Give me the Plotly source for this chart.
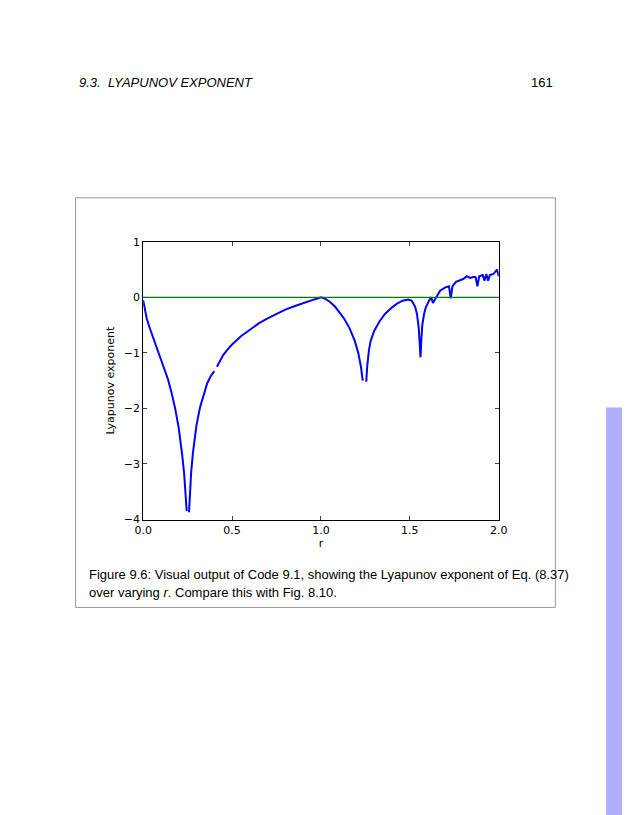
import plotly.graph_objects as go

r_vals = [0,0.01,0.02,0.04,0.06,0.08,0.1,0.12,0.14,0.16,0.18,0.2,0.21,0.22,0.23,0.24,0.245,None,
          0.258,0.262,0.27,0.28,0.29,0.3,0.32,0.34,0.36,0.38,0.4,None,
          0.415,0.43,0.45,0.48,0.5,0.55,0.6,0.65,0.7,0.75,0.8,0.85,0.9,0.95,0.98,1.0,1.02,1.05,1.08,1.1,1.13,1.16,1.19,1.21,1.225,1.235,None,
          1.255,1.26,1.27,1.28,1.3,1.33,1.36,1.4,1.43,1.46,1.49,1.51,1.53,1.54,1.55,1.56,1.565,1.57,1.58,1.59,1.61,1.62,1.63,1.65,1.67,1.7,1.72,1.73,1.74,1.76,1.78,1.8,1.82,1.84,1.86,1.87,1.88,1.89,1.91,1.92,1.93,1.94,1.95,1.97,1.99,2.0]
lyap = [-0.05,-0.25,-0.38,-0.58,-0.76,-0.93,-1.1,-1.28,-1.48,-1.72,-2.0,-2.35,-2.58,-2.85,-3.15,-3.55,-3.85,None,
        -3.87,-3.6,-3.15,-2.8,-2.52,-2.3,-1.98,-1.74,-1.55,-1.42,-1.33,None,
        -1.25,-1.15,-1.04,-0.92,-0.85,-0.7,-0.58,-0.47,-0.38,-0.3,-0.22,-0.16,-0.1,-0.05,-0.02,0,-0.02,-0.08,-0.17,-0.25,-0.38,-0.55,-0.78,-1.0,-1.25,-1.5,None,
        -1.52,-1.25,-0.95,-0.78,-0.6,-0.43,-0.3,-0.18,-0.11,-0.06,-0.04,-0.06,-0.17,-0.3,-0.55,-1.08,-0.75,-0.5,-0.3,-0.18,-0.05,0,-0.1,0.0,0.12,0.18,0.2,-0.02,0.2,0.28,0.3,0.33,0.38,0.35,0.37,0.36,0.2,0.38,0.4,0.3,0.42,0.3,0.4,0.42,0.5,0.38]
zero_r = [0, 2]
zero_y = [0, 0]
x_ticks = [0, 0.5, 1.0, 1.5, 2.0]
x_labels = ["0.0", "0.5", "1.0", "1.5", "2.0"]
y_ticks = [1, 0, -1, -2, -3, -4]
y_labels = ["1", "0", "\u22121", "\u22122", "\u22123", "\u22124"]

W, H = 630, 815
def fx(p):
    return ((p - 14) / 0.978) / W
def fy(p):
    return 1 - ((p - 13) / 0.985) / H

fig = go.Figure()
fig.add_trace(go.Scatter(x=r_vals, y=lyap, mode="lines", line=dict(color="#0000ff", width=2), connectgaps=False))
fig.add_trace(go.Scatter(x=zero_r, y=zero_y, mode="lines", line=dict(color="#008000", width=1.3)))

tickfont = dict(family="DejaVu Sans", size=11, color="black")
fig.update_layout(
    width=W, height=H, margin=dict(l=0, r=0, t=0, b=0),
    paper_bgcolor="white", plot_bgcolor="white", showlegend=False,
    xaxis=dict(domain=[fx(141), fx(499)], range=[0, 2], tickvals=x_ticks, ticktext=x_labels,
               ticks="inside", ticklen=4, showgrid=False, zeroline=False, showline=True, mirror="ticks",
               linecolor="black", linewidth=1, tickfont=tickfont,
               title=dict(text="r", font=tickfont, standoff=2)),
    yaxis=dict(domain=[fy(519), fy(241)], range=[-4, 1], tickvals=y_ticks, ticktext=y_labels,
               ticks="inside", ticklen=4, showgrid=False, zeroline=False, showline=True, mirror="ticks",
               linecolor="black", linewidth=1, tickfont=tickfont,
               title=dict(text="Lyapunov exponent", font=tickfont, standoff=6)),
)
fig.add_shape(type="rect", xref="paper", yref="paper", x0=fx(73), x1=fx(556), y0=fy(607), y1=fy(197),
              line=dict(color="#999999", width=1))
fig.add_shape(type="rect", xref="paper", yref="paper", x0=fx(607), x1=1.05, y0=-0.05, y1=fy(407),
              line=dict(width=0), fillcolor="#b0b0ff")
font_txt = dict(family="Liberation Sans", size=13, color="black")
fig.add_annotation(xref="paper", yref="paper", x=fx(74), y=fy(82), text="<i>9.3.  LYAPUNOV EXPONENT</i>",
                   showarrow=False, xanchor="left", yanchor="middle", font=font_txt)
fig.add_annotation(xref="paper", yref="paper", x=fx(556), y=fy(82), text="161",
                   showarrow=False, xanchor="right", yanchor="middle", font=font_txt)
fig.add_annotation(xref="paper", yref="paper", x=fx(84), y=fy(574),
                   text="Figure 9.6: Visual output of Code 9.1, showing the Lyapunov exponent of Eq. (8.37)",
                   showarrow=False, xanchor="left", yanchor="middle", font=font_txt)
fig.add_annotation(xref="paper", yref="paper", x=fx(84), y=fy(592),
                   text="over varying <i>r</i>. Compare this with Fig. 8.10.",
                   showarrow=False, xanchor="left", yanchor="middle", font=font_txt)
fig.write_html("out.html")
